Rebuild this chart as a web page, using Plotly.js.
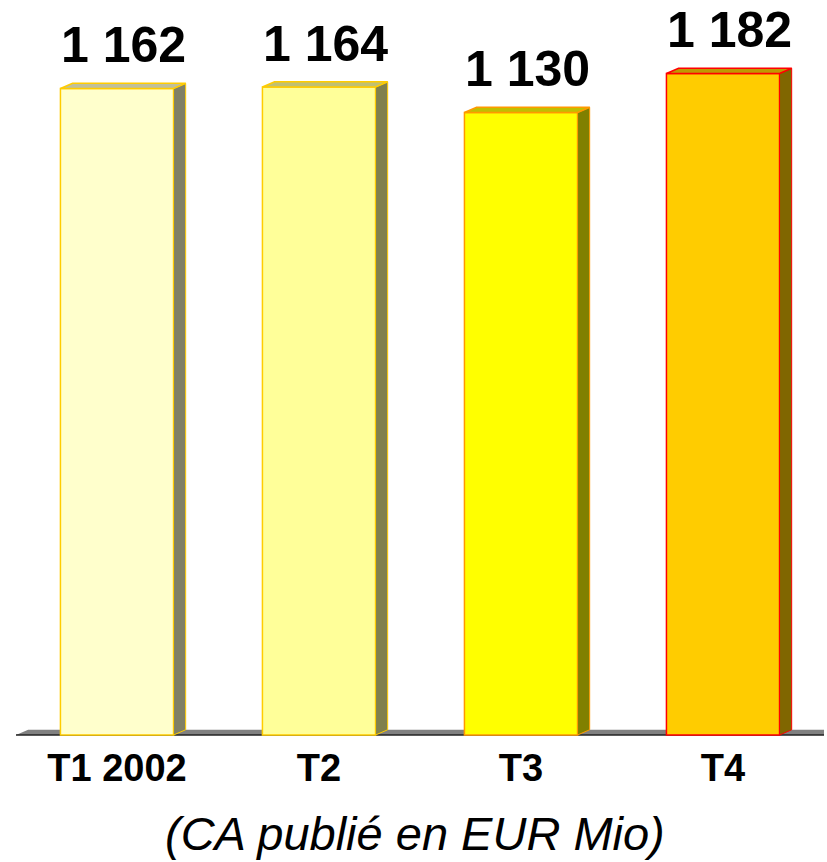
<!DOCTYPE html>
<html>
<head>
<meta charset="utf-8">
<script src="https://cdn.plot.ly/plotly-3.0.1.min.js"></script>
<style>html,body{margin:0;padding:0;background:#fff;}#chart{width:827px;height:862px;}</style>
</head>
<body>
<div id="chart"></div>
<script>
// ---- data ----
const categories = ["T1 2002", "T2", "T3", "T4"];
const values = [1162, 1164, 1130, 1182];
const axisTitle = "(CA publié en EUR Mio)";

// ---- styling ----
const frontColors = ["#FFFFCC", "#FFFF99", "#FFFF00", "#FFCC00"];
const topColors   = ["#C0C09A", "#C0C073", "#C0C000", "#C09900"];
const sideColors  = ["#808066", "#80804D", "#808000", "#806600"];
const edgeColors  = ["#FFCC00", "#FFCC00", "#FF9900", "#FF0000"];
const floorValue = 300;
const barWidth = 0.56;
const depthX = 0.06;
const depthY = 7;
const FONT = "Liberation Sans, Arial, sans-serif";

const xs = categories.map((c, i) => i);
const labels = values.map(v => String(v).replace(/\B(?=(\d{3})+(?!\d))/g, " "));

const traces = [];
// front faces
traces.push({
  type: "bar", x: xs, y: values.map(v => v - floorValue), base: floorValue,
  width: barWidth,
  marker: { color: frontColors, line: { color: edgeColors, width: 1.5 } },
  hoverinfo: "skip"
});
// side and top faces
xs.forEach((x, i) => {
  const v = values[i];
  const xl = x - barWidth / 2, xr = x + barWidth / 2;
  traces.push({
    type: "scatter", mode: "lines", fill: "toself",
    x: [xr, xr + depthX, xr + depthX, xr, xr],
    y: [floorValue, floorValue + depthY, v + depthY, v, floorValue],
    fillcolor: sideColors[i], line: { color: edgeColors[i], width: 1 },
    hoverinfo: "skip", showlegend: false, cliponaxis: false
  });
  traces.push({
    type: "scatter", mode: "lines", fill: "toself",
    x: [xl, xl + depthX, xr + depthX, xr, xl],
    y: [v, v + depthY, v + depthY, v, v],
    fillcolor: topColors[i], line: { color: edgeColors[i], width: 1.5 },
    hoverinfo: "skip", showlegend: false, cliponaxis: false
  });
});

const annotations = xs.map((x, i) => ({
  x: x + depthX / 2, y: values[i] + depthY, xref: "x", yref: "y",
  text: labels[i], showarrow: false, yanchor: "bottom", yshift: 8,
  font: { family: FONT, size: 50, color: "#000", weight: "bold" }
}));
annotations.push({
  x: 0.494, y: 0, xref: "paper", yref: "paper",
  text: "<i>" + axisTitle + "</i>", showarrow: false, yanchor: "top", yshift: -68,
  font: { family: FONT, size: 47, color: "#000" }
});

const plotH = 737;
const pxPerUnit = 0.75;
const yLo = floorValue - 2 / pxPerUnit;

const layout = {
  width: 827, height: 862,
  margin: { l: 16, r: 3, t: 0, b: 862 - plotH },
  paper_bgcolor: "#fff", plot_bgcolor: "#fff",
  showlegend: false,
  xaxis: {
    range: [-0.5, 3.5], tickvals: xs, ticktext: categories,
    showgrid: false, zeroline: false, showline: false, ticks: "",
    tickfont: { family: FONT, size: 38, color: "#000", weight: "bold" },
    ticklabelstandoff: 5
  },
  yaxis: { range: [yLo, yLo + plotH / pxPerUnit], visible: false, showgrid: false, zeroline: false },
  shapes: [
    { type: "path", xref: "x", yref: "y", layer: "below",
      path: `M -0.5 ${floorValue} L ${-0.5 + depthX} ${floorValue + depthY} L 3.6 ${floorValue + depthY} L 3.6 ${floorValue} Z`,
      fillcolor: "#808080", line: { width: 0 } },
    { type: "line", xref: "x", yref: "y", layer: "below",
      x0: -0.5, x1: 3.6, y0: floorValue, y1: floorValue,
      line: { color: "#222", width: 1.5 } }
  ],
  annotations: annotations
};

Plotly.newPlot("chart", traces, layout, { displayModeBar: false, staticPlot: true });
</script>
</body>
</html>
